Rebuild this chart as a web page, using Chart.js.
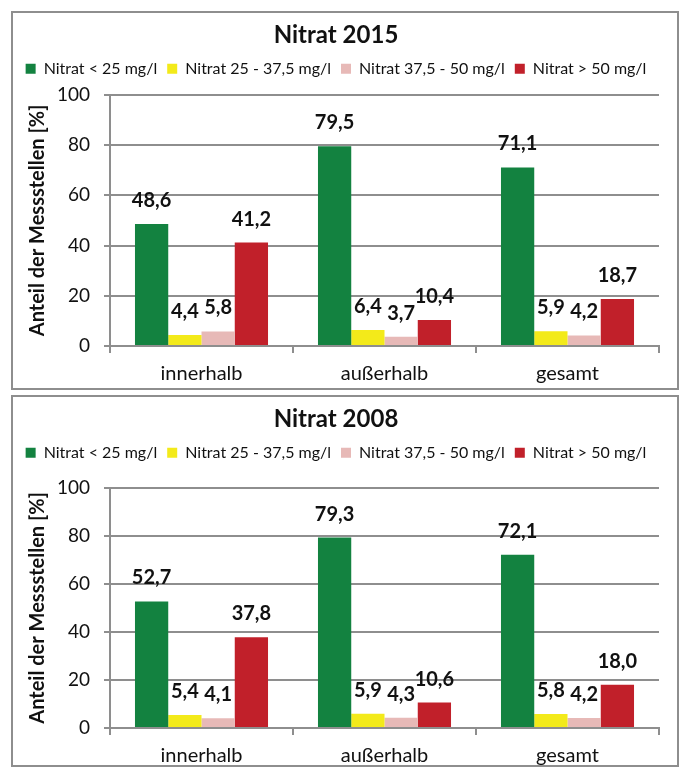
<!DOCTYPE html>
<html lang="de">
<head>
<meta charset="utf-8">
<title>Nitrat 2015 / 2008</title>
<script src="https://cdn.jsdelivr.net/npm/chart.js@4.4.1/dist/chart.umd.min.js"></script>
<style>
  html, body { margin: 0; padding: 0; background: #fff; }
  body { width: 683px; height: 767px; position: relative; overflow: hidden; }
  .panel { position: absolute; left: 11px; width: 664px; border: 2px solid #8e8e8e; background: #fff; }
  .panel canvas { display: block; }
  #panel2015 { top: 11px; height: 375px; }
  #panel2008 { top: 395px; height: 368px; }
</style>
</head>
<body>
<div class="panel" id="panel2015"><canvas id="chart2015" width="664" height="375"></canvas></div>
<div class="panel" id="panel2008"><canvas id="chart2008" width="664" height="368"></canvas></div>
<script>
// categories and series
const categories = ['innerhalb', 'außerhalb', 'gesamt']
const seriesNames = ['Nitrat < 25 mg/l', 'Nitrat 25 - 37,5 mg/l', 'Nitrat 37,5 - 50 mg/l', 'Nitrat > 50 mg/l']

// Nitrat 2015, share of stations in %
const below25_2015 = [48.6, 79.5, 71.1]
const from25to37_2015 = [4.4, 6.4, 5.9]
const from37to50_2015 = [5.8, 3.7, 4.2]
const above50_2015 = [41.2, 10.4, 18.7]

// Nitrat 2008
const below25_2008 = [52.7, 79.3, 72.1]
const from25to37_2008 = [5.4, 5.9, 5.8]
const from37to50_2008 = [4.1, 4.3, 4.2]
const above50_2008 = [37.8, 10.6, 18.0]

const yMin = 0
const yMax = 100
const yStep = 20

const seriesColors = ['#138240', '#f3ea1a', '#e7b9b7', '#c1202a']
const gridColor = '#8e8e8e'

Chart.defaults.font.family = 'Lato, "Open Sans", sans-serif'
Chart.defaults.color = '#111'

function formatValue(v) {
    return v.toFixed(1).replace('.', ',')
}

// numbers above the bars, german decimal comma
const valueLabels = {
    id: 'valueLabels',
    afterDatasetsDraw: function (chart) {
        const ctx = chart.ctx
        ctx.save()
        ctx.font = 'bold 20px Lato, "Open Sans", sans-serif'
        ctx.fillStyle = '#111'
        ctx.textAlign = 'center'
        ctx.textBaseline = 'alphabetic'
        chart.data.datasets.forEach(function (ds, i) {
            chart.getDatasetMeta(i).data.forEach(function (bar, j) {
                ctx.fillText(formatValue(ds.data[j]), bar.x, bar.y - 17)
            })
        })
        ctx.restore()
    }
}

// extra room under the legend
const legendSpacer = {
    id: 'legendSpacer',
    afterInit: function (chart, args, opts) {
        const legend = chart.legend
        const fit = legend.fit
        legend.fit = function () {
            fit.call(this)
            this.height += opts.extra
        }
    }
}

function makeChart(canvasId, titleText, series, legendExtra, xAxisHeight) {
    const ctx = document.getElementById(canvasId)
    return new Chart(ctx, {
        type: 'bar',
        data: {
            labels: categories,
            datasets: series.map(function (values, i) {
                return {
                    label: seriesNames[i],
                    data: values,
                    backgroundColor: seriesColors[i],
                    borderWidth: 0,
                    categoryPercentage: 0.727,
                    barPercentage: 1
                }
            })
        },
        options: {
            responsive: false,
            animation: false,
            devicePixelRatio: 1,
            layout: { padding: { left: 0, right: 18, top: 0, bottom: 0 } },
            plugins: {
                title: {
                    display: true,
                    text: titleText,
                    color: '#111',
                    font: { size: 24, weight: 'bold', lineHeight: 1.2 },
                    padding: { top: 8, bottom: 1 }
                },
                legend: {
                    position: 'top',
                    labels: {
                        boxWidth: 10,
                        boxHeight: 10,
                        padding: 10,
                        color: '#111',
                        font: { size: 16 }
                    }
                },
                tooltip: { enabled: false },
                legendSpacer: { extra: legendExtra }
            },
            scales: {
                x: {
                    offset: true,
                    border: { color: gridColor, width: 2 },
                    grid: {
                        offset: true,
                        drawOnChartArea: false,
                        drawTicks: true,
                        tickLength: 7,
                        color: gridColor,
                        lineWidth: 2
                    },
                    ticks: { padding: 9, color: '#111', font: { size: 20 } },
                    afterFit: function (scale) { scale.height = xAxisHeight }
                },
                y: {
                    min: yMin,
                    max: yMax,
                    border: { color: gridColor, width: 2 },
                    grid: { color: gridColor, lineWidth: 2, drawTicks: true, tickLength: 6 },
                    ticks: { stepSize: yStep, padding: 14, color: '#111', font: { size: 19 } },
                    title: {
                        display: true,
                        text: 'Anteil der Messstellen [%]',
                        color: '#111',
                        font: { size: 20, weight: 'bold', lineHeight: 1.2 },
                        padding: { top: 13, bottom: 0 }
                    },
                    afterFit: function (scale) { scale.width = 97 }
                }
            }
        },
        plugins: [valueLabels, legendSpacer]
    })
}

makeChart('chart2015', 'Nitrat 2015',
    [below25_2015, from25to37_2015, from37to50_2015, above50_2015], 8, 42)
makeChart('chart2008', 'Nitrat 2008',
    [below25_2008, from25to37_2008, from37to50_2008, above50_2008], 17, 37)
</script>
</body>
</html>
